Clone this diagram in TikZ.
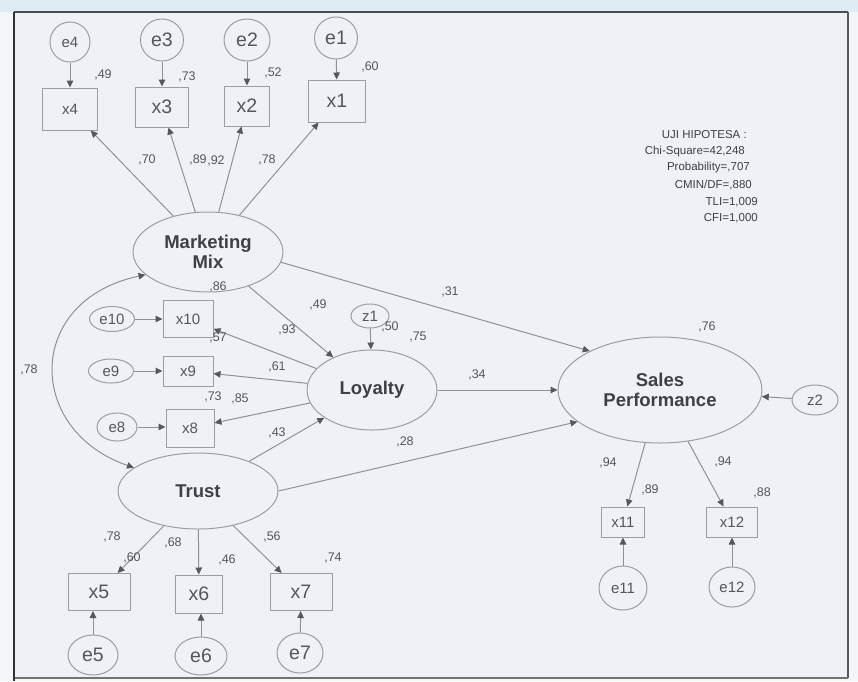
\documentclass[tikz,border=0pt]{standalone}
\usepackage{fontspec}
\setmainfont{Liberation Sans}
\usetikzlibrary{shapes.geometric,arrows.meta}
\definecolor{pagebg}{HTML}{F4F7F9}
\definecolor{topbg}{HTML}{DDECF3}
\definecolor{innerbg}{HTML}{EEF1F5}
\definecolor{ndc}{HTML}{9A9DA2}
\definecolor{lnc}{HTML}{8E9196}
\definecolor{arrc}{HTML}{55585C}
\definecolor{txt}{HTML}{55575B}
\definecolor{txtd}{HTML}{3E4044}
\begin{document}
\begin{tikzpicture}[x=1pt,y=-1pt,
  lat/.style={ellipse,draw=ndc,line width=1pt,inner sep=0pt,text=txtd,align=center,
    font=\fontsize{18.5}{20}\selectfont\bfseries},
  obs/.style={rectangle,draw=ndc,line width=1pt,inner sep=0pt},
  err/.style={ellipse,draw=ndc,line width=1pt,inner sep=0pt},
  big/.style={font=\fontsize{19.5}{20}\selectfont,text=txt},
  sml/.style={font=\fontsize{15}{16}\selectfont,text=txt},
  num/.style={font=\fontsize{12.5}{13}\selectfont,text=txt,inner sep=0pt},
  fit/.style={font=\fontsize{11.5}{12}\selectfont,text=txtd,inner sep=0pt,anchor=east},
  arr/.style={draw=lnc,line width=1pt,-{Triangle[length=7pt,width=6.5pt,color=arrc]}},
  cov/.style={draw=lnc,line width=1pt,{Triangle[length=7pt,width=6.5pt,color=arrc]}-{Triangle[length=7pt,width=6.5pt,color=arrc]}}
]
\useasboundingbox (0,0) rectangle (858,681);
\fill[pagebg] (0,0) rectangle (858,681);
\fill[topbg] (0,0) rectangle (858,12);
\fill[innerbg] (14,12) rectangle (848,678);
\draw[line width=1.6pt,draw=black!70] (14,12) -- (848,12);
\draw[line width=1.6pt,draw=black!65] (848,12) -- (848,678);
\draw[line width=1.4pt,draw=black!55] (14,678) -- (848,678);
\draw[line width=2.8pt,draw=black!80] (14,12) -- (14,681);

% ---- top indicators of Marketing Mix
\node[err,sml,minimum width=40pt,minimum height=40pt] (e4) at (70,42) {e4};
\node[err,big,minimum width=43pt,minimum height=42pt] (e3) at (162,40) {e3};
\node[err,big,minimum width=46pt,minimum height=42pt] (e2) at (247,40) {e2};
\node[err,big,minimum width=43pt,minimum height=42pt] (e1) at (336,38) {e1};
\node[obs,sml,minimum width=55pt,minimum height=42pt] (x4) at (70,109) {x4};
\node[obs,big,minimum width=53pt,minimum height=40pt] (x3) at (162,107) {x3};
\node[obs,big,minimum width=45pt,minimum height=40pt] (x2) at (247,106) {x2};
\node[obs,big,minimum width=57pt,minimum height=42pt] (x1) at (337,101) {x1};

% ---- latent variables
\node[lat,minimum width=150pt,minimum height=80pt] (MM) at (208,252) {Marketing\\Mix};
\node[lat,minimum width=130pt,minimum height=80pt] (LO) at (372,390) {Loyalty};
\node[lat,minimum width=204pt,minimum height=106pt] (SP) at (660,390) {Sales\\Performance};
\node[lat,minimum width=160pt,minimum height=76pt] (TR) at (198,491) {Trust};

% ---- Loyalty indicators
\node[err,sml,minimum width=45pt,minimum height=25pt] (e10) at (112,319) {e10};
\node[obs,sml,minimum width=50pt,minimum height=37pt] (x10) at (188,319) {x10};
\node[err,sml,minimum width=45pt,minimum height=24pt] (e9) at (111,371) {e9};
\node[obs,sml,minimum width=50pt,minimum height=30pt] (x9) at (188,371) {x9};
\node[err,sml,minimum width=40pt,minimum height=28pt] (e8) at (117,427) {e8};
\node[obs,sml,minimum width=48pt,minimum height=38pt] (x8) at (190,428) {x8};
\node[err,sml,minimum width=38pt,minimum height=24pt] (z1) at (370,316) {z1};

% ---- Sales Performance indicators
\node[err,sml,minimum width=46pt,minimum height=30pt] (z2) at (815,400) {z2};
\node[obs,sml,minimum width=43pt,minimum height=30pt] (x11) at (623,522) {x11};
\node[obs,sml,minimum width=51pt,minimum height=30pt] (x12) at (732,522) {x12};
\node[err,sml,minimum width=48pt,minimum height=44pt] (e11) at (623,588) {e11};
\node[err,sml,minimum width=46pt,minimum height=40pt] (e12) at (732,587) {e12};

% ---- Trust indicators
\node[obs,big,minimum width=62pt,minimum height=37pt] (x5) at (99,592) {x5};
\node[obs,big,minimum width=47pt,minimum height=38pt] (x6) at (199,594) {x6};
\node[obs,big,minimum width=62pt,minimum height=37pt] (x7) at (301,592) {x7};
\node[err,big,minimum width=50pt,minimum height=40pt] (e5) at (93,655) {e5};
\node[err,big,minimum width=52pt,minimum height=38pt] (e6) at (201,656) {e6};
\node[err,big,minimum width=46pt,minimum height=40pt] (e7) at (300,653) {e7};

% ---- connectors
\draw[arr] (e4) -- (x4);
\draw[arr] (e3) -- (x3);
\draw[arr] (e2) -- (x2);
\draw[arr] (e1) -- (x1);
\draw[arr] (MM) -- (x4);
\draw[arr] (MM) -- (x3);
\draw[arr] (MM) -- (x2);
\draw[arr] (MM) -- (x1);
\draw[arr] (e10) -- (x10);
\draw[arr] (e9) -- (x9);
\draw[arr] (e8) -- (e8 -| x8.west);
\draw[arr] (LO) -- (x10);
\draw[arr] (LO) -- (x9);
\draw[arr] (LO) -- (x8);
\draw[arr] (MM) -- (LO);
\draw[arr] (MM.-8) -- (SP.151);
\draw[arr] (z1) -- (LO);
\draw[arr] (LO) -- (SP);
\draw[arr] (TR) -- (LO);
\draw[arr] (TR.east) -- (SP.201);
\draw[arr] (z2) -- (SP);
\draw[arr] (SP) -- (x11);
\draw[arr] (SP) -- (x12);
\draw[arr] (e11) -- (x11);
\draw[arr] (e12) -- (x12);
\draw[arr] (TR) -- (x5);
\draw[arr] (TR) -- (x6);
\draw[arr] (TR) -- (x7);
\draw[arr] (e5) -- (e5 |- x5.south);
\draw[arr] (e6) -- (e6 |- x6.south);
\draw[arr] (e7) -- (x7);
\draw[cov] (MM.200) .. controls (25,300) and (25,430) .. (TR.160);

% ---- coefficient labels
\node[num] (l1) at (103,75) {,49};
\node[num] (l2) at (187,77) {,73};
\node[num] (l3) at (273,73) {,52};
\node[num] (l4) at (370,67) {,60};
\node[num] (l5) at (147,160) {,70};
\node[num] (l6) at (198,160) {,89};
\node[num] (l7) at (216,161) {,92};
\node[num] (l8) at (267,160) {,78};
\node[num] (l9) at (218,287) {,86};
\node[num] (l10) at (218,338) {,57};
\node[num] (l11) at (213,397) {,73};
\node[num] (l12) at (240,399) {,85};
\node[num] (l13) at (318,305) {,49};
\node[num] (l14) at (287,330) {,93};
\node[num] (l15) at (277,367) {,61};
\node[num] (l16) at (277,433) {,43};
\node[num] (l17) at (390,327) {,50};
\node[num] (l18) at (418,337) {,75};
\node[num] (l19) at (450,292) {,31};
\node[num] (l20) at (477,375) {,34};
\node[num] (l21) at (405,442) {,28};
\node[num] (l22) at (707,327) {,76};
\node[num] (l23) at (608,463) {,94};
\node[num] (l24) at (723,462) {,94};
\node[num] (l25) at (650,490) {,89};
\node[num] (l26) at (762,493) {,88};
\node[num] (l27) at (112,537) {,78};
\node[num] (l28) at (132,558) {,60};
\node[num] (l29) at (173,543) {,68};
\node[num] (l30) at (227,560) {,46};
\node[num] (l31) at (272,537) {,56};
\node[num] (l32) at (333,558) {,74};
\node[num] (l33) at (29,370) {,78};

% ---- fit statistics
\node[fit] (f1) at (747,135) {UJI HIPOTESA :};
\node[fit] (f2) at (745,152) {Chi-Square=42,248};
\node[fit] (f3) at (750,168) {Probability=,707};
\node[fit] (f4) at (752,185) {CMIN/DF=,880};
\node[fit] (f5) at (758,202) {TLI=1,009};
\node[fit] (f6) at (758,218) {CFI=1,000};
\end{tikzpicture}
\end{document}
